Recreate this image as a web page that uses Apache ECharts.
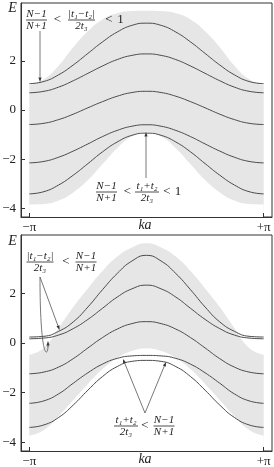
<!DOCTYPE html>
<html><head><meta charset="utf-8">
<script src="https://cdn.jsdelivr.net/npm/echarts@6/dist/echarts.min.js"></script>
<style>html,body{margin:0;padding:0;background:#fff}#c{width:274px;height:467px}</style>
</head><body><div id="c"></div>
<script>
// k values (ka) from -pi to +pi
const kVals = [-3.1416,-2.7489,-2.3562,-1.9635,-1.5708,-1.1781,-0.7854,-0.3927,0,0.3927,0.7854,1.1781,1.5708,1.9635,2.3562,2.7489,3.1416];

// top panel: band curves
const topBand1 = [1.07,1.16,1.43,1.83,2.30,2.77,3.17,3.44,3.53,3.44,3.17,2.77,2.30,1.83,1.43,1.16,1.07];
const topBand2 = [0.70,0.76,0.93,1.19,1.49,1.79,2.05,2.22,2.28,2.22,2.05,1.79,1.49,1.19,0.93,0.76,0.70];
const topBand3 = [-0.59,-0.54,-0.39,-0.17,0.09,0.34,0.56,0.71,0.76,0.71,0.56,0.34,0.09,-0.17,-0.39,-0.54,-0.59];
const topBand4 = [-2.15,-2.09,-1.92,-1.67,-1.38,-1.08,-0.83,-0.66,-0.60,-0.66,-0.83,-1.08,-1.38,-1.67,-1.92,-2.09,-2.15];
const topBand5 = [-3.41,-3.32,-3.05,-2.65,-2.18,-1.70,-1.30,-1.03,-0.94,-1.03,-1.30,-1.70,-2.18,-2.65,-3.05,-3.32,-3.41];
// top panel: continuum (gray) edges
const topGrayUpper = [1.00,1.25,1.80,2.55,3.20,3.68,3.93,4.02,4.04,4.02,3.93,3.68,3.20,2.55,1.80,1.25,1.00];
const topGrayLower = [-3.84,-3.82,-3.68,-3.35,-2.85,-2.20,-1.55,-1.08,-0.88,-1.08,-1.55,-2.20,-2.85,-3.35,-3.68,-3.82,-3.84];

// bottom panel: band curves
const botBand1 = [0.24,0.27,0.47,0.85,1.45,2.15,2.80,3.30,3.53,3.30,2.80,2.15,1.45,0.85,0.47,0.27,0.24];
const botBand2 = [0.17,0.20,0.32,0.58,0.95,1.40,1.85,2.18,2.33,2.18,1.85,1.40,0.95,0.58,0.32,0.20,0.17];
const botBand3 = [-1.24,-1.17,-0.97,-0.63,-0.20,0.22,0.56,0.78,0.86,0.78,0.56,0.22,-0.20,-0.63,-0.97,-1.17,-1.24];
const botBand4 = [-2.43,-2.33,-2.05,-1.62,-1.20,-0.85,-0.62,-0.52,-0.50,-0.52,-0.62,-0.85,-1.20,-1.62,-2.05,-2.33,-2.43];
const botBand5 = [-3.40,-3.30,-3.00,-2.50,-1.90,-1.35,-0.95,-0.74,-0.70,-0.74,-0.95,-1.35,-1.90,-2.50,-3.00,-3.30,-3.40];
// bottom panel: continuum (gray) edges
const botGrayUpper = [-0.47,-0.20,0.60,1.45,2.20,2.90,3.48,3.85,4.02,3.85,3.48,2.90,2.20,1.45,0.60,-0.20,-0.47];
const botGrayLower = [-3.73,-3.50,-2.95,-2.30,-1.65,-1.05,-0.60,-0.32,-0.22,-0.32,-0.60,-1.05,-1.65,-2.30,-2.95,-3.50,-3.73];

// tick labels
const xTickVals = [-3.1416, 3.1416];
const xTickText = ['−π', '+π'];
const yTickVals = [-4, -2, 0, 2];
const yTickText = ['−4', '−2', '0', '2'];
const xAxisTitle = 'ka';
const yAxisTitle = 'E';

const SERIF = '"Liberation Serif","DejaVu Serif",serif';
const LINE = '#4a4a4a';
const GRAY = '#e6e6e6';
const SMOOTH = 0.5;

const chart = echarts.init(document.getElementById('c'), null, {renderer: 'canvas'});

const pair = arr => kVals.map((k, i) => [k, arr[i]]);

const grids = [
  {left: 21, top: 3, width: 251, height: 214},
  {left: 21, top: 235, width: 251, height: 216}
].map(g => Object.assign(g, {show: true, borderColor: '#333', borderWidth: 1, backgroundColor: 'transparent',
  containLabel: false, outerBoundsMode: 'none'}));

function xAx(gi) {
  return {
    type: 'value', gridIndex: gi, min: -3.364, max: 3.364, z: 20,
    axisLine: {show: true, onZero: false, lineStyle: {color: '#333', width: 1}},
    splitLine: {show: false},
    axisTick: {show: true, inside: true, length: 4, customValues: xTickVals, lineStyle: {color: '#333'}},
    axisLabel: {customValues: xTickVals, formatter: v => (v < 0 ? xTickText[0] : xTickText[1]),
      fontFamily: SERIF, fontSize: 13, color: '#222', margin: 4}
  };
}
function yAx(gi) {
  return {
    type: 'value', gridIndex: gi, min: -4.35, max: 4.35, z: 20,
    axisLine: {show: true, onZero: false, lineStyle: {color: '#333', width: 1}},
    splitLine: {show: false},
    axisTick: {show: true, inside: true, length: 4, customValues: yTickVals, lineStyle: {color: '#333'}},
    axisLabel: {customValues: yTickVals, formatter: v => yTickText[yTickVals.indexOf(v)],
      fontFamily: SERIF, fontSize: 13, color: '#222', margin: 5}
  };
}

function bandSeries(arr, ai) {
  return {type: 'line', xAxisIndex: ai, yAxisIndex: ai, data: pair(arr), showSymbol: false,
    smooth: SMOOTH, lineStyle: {color: LINE, width: 1}, z: 5, silent: true};
}
function graySeries(up, lo, ai) {
  return [
    {type: 'line', xAxisIndex: ai, yAxisIndex: ai, data: pair(up), showSymbol: false,
      smooth: SMOOTH, lineStyle: {opacity: 0}, areaStyle: {color: GRAY, opacity: 1, origin: 'start'}, z: 1, silent: true},
    {type: 'line', xAxisIndex: ai, yAxisIndex: ai, data: pair(lo), showSymbol: false,
      smooth: SMOOTH, lineStyle: {opacity: 0}, areaStyle: {color: '#ffffff', opacity: 1, origin: 'start'}, z: 2, silent: true}
  ];
}

// annotation helpers (layout only)
function txt(x, y, s, size, italic) {
  return {type: 'text', x: x, y: y, style: {text: s, fontFamily: SERIF, fontSize: size || 11,
    fontStyle: italic ? 'italic' : 'normal', fill: '#222', align: 'center', verticalAlign: 'middle'}, z: 50};
}
function frac(cx, cy, num, den, w) {
  return [
    txt(cx, cy - 6, num, 11, true),
    {type: 'line', shape: {x1: cx - w / 2, y1: cy, x2: cx + w / 2, y2: cy}, style: {stroke: '#222', lineWidth: 0.8}, z: 50},
    txt(cx, cy + 6.5, den, 11, true)
  ];
}
function arrow(x1, y1, x2, y2) {
  const a = Math.atan2(y2 - y1, x2 - x1), L = 4.5, W = 1.6;
  const bx = x2 - L * Math.cos(a), by = y2 - L * Math.sin(a);
  return [
    {type: 'line', shape: {x1: x1, y1: y1, x2: bx, y2: by}, style: {stroke: '#555', lineWidth: 0.8}, z: 50},
    {type: 'polygon', shape: {points: [[x2, y2], [bx - W * Math.sin(a), by + W * Math.cos(a)], [bx + W * Math.sin(a), by - W * Math.cos(a)]]},
      style: {fill: '#333'}, z: 50}
  ];
}

const graphics = [].concat(
  txt(12.5, 8, yAxisTitle, 14, true),
  txt(12.5, 241, yAxisTitle, 14, true),
  txt(145, 225.5, xAxisTitle, 14, true),
  txt(145, 459.5, xAxisTitle, 14, true),
  // top panel, upper-left label
  frac(36.5, 20, 'N−1', 'N+1', 21),
  txt(57.5, 20, '<', 13, false),
  frac(81.5, 20, '|t₁−t₂|', '2t₃', 27),
  txt(109, 20, '<', 13, false),
  txt(120.5, 20, '1', 13, false),
  arrow(40, 31, 40, 82),
  // top panel, lower label
  frac(106.5, 192, 'N−1', 'N+1', 21),
  txt(127.5, 192, '<', 13, false),
  frac(147, 192, 't₁+t₂', '2t₃', 24),
  txt(167, 192, '<', 13, false),
  txt(178, 192, '1', 13, false),
  arrow(146, 178, 146, 132),
  // bottom panel, upper-left label
  frac(40, 262, '|t₁−t₂|', '2t₃', 27),
  txt(66, 262, '<', 13, false),
  frac(86, 262, 'N−1', 'N+1', 21),
  arrow(40, 277, 59.5, 330),
  [{type: 'bezierCurve', shape: {x1: 40, y1: 277, x2: 48, y2: 346, cpx1: 40, cpy1: 360, cpx2: 48, cpy2: 358},
    style: {stroke: '#555', lineWidth: 0.8, fill: null}, z: 50}],
  arrow(48, 347, 48, 341),
  // bottom panel, lower label
  frac(126, 426, 't₁+t₂', '2t₃', 24),
  txt(145, 426, '<', 13, false),
  frac(164, 426, 'N−1', 'N+1', 21),
  arrow(145, 413, 123, 359),
  arrow(145, 413, 166, 362)
);

const series = [].concat(
  graySeries(topGrayUpper, topGrayLower, 0),
  graySeries(botGrayUpper, botGrayLower, 1),
  [topBand1, topBand2, topBand3, topBand4, topBand5].map(a => bandSeries(a, 0)),
  [botBand1, botBand2, botBand3, botBand4, botBand5].map(a => bandSeries(a, 1))
);

chart.setOption({
  animation: false,
  backgroundColor: '#fff',
  grid: grids,
  xAxis: [xAx(0), xAx(1)],
  yAxis: [yAx(0), yAx(1)],
  series: series,
  graphic: graphics
});
</script></body></html>
